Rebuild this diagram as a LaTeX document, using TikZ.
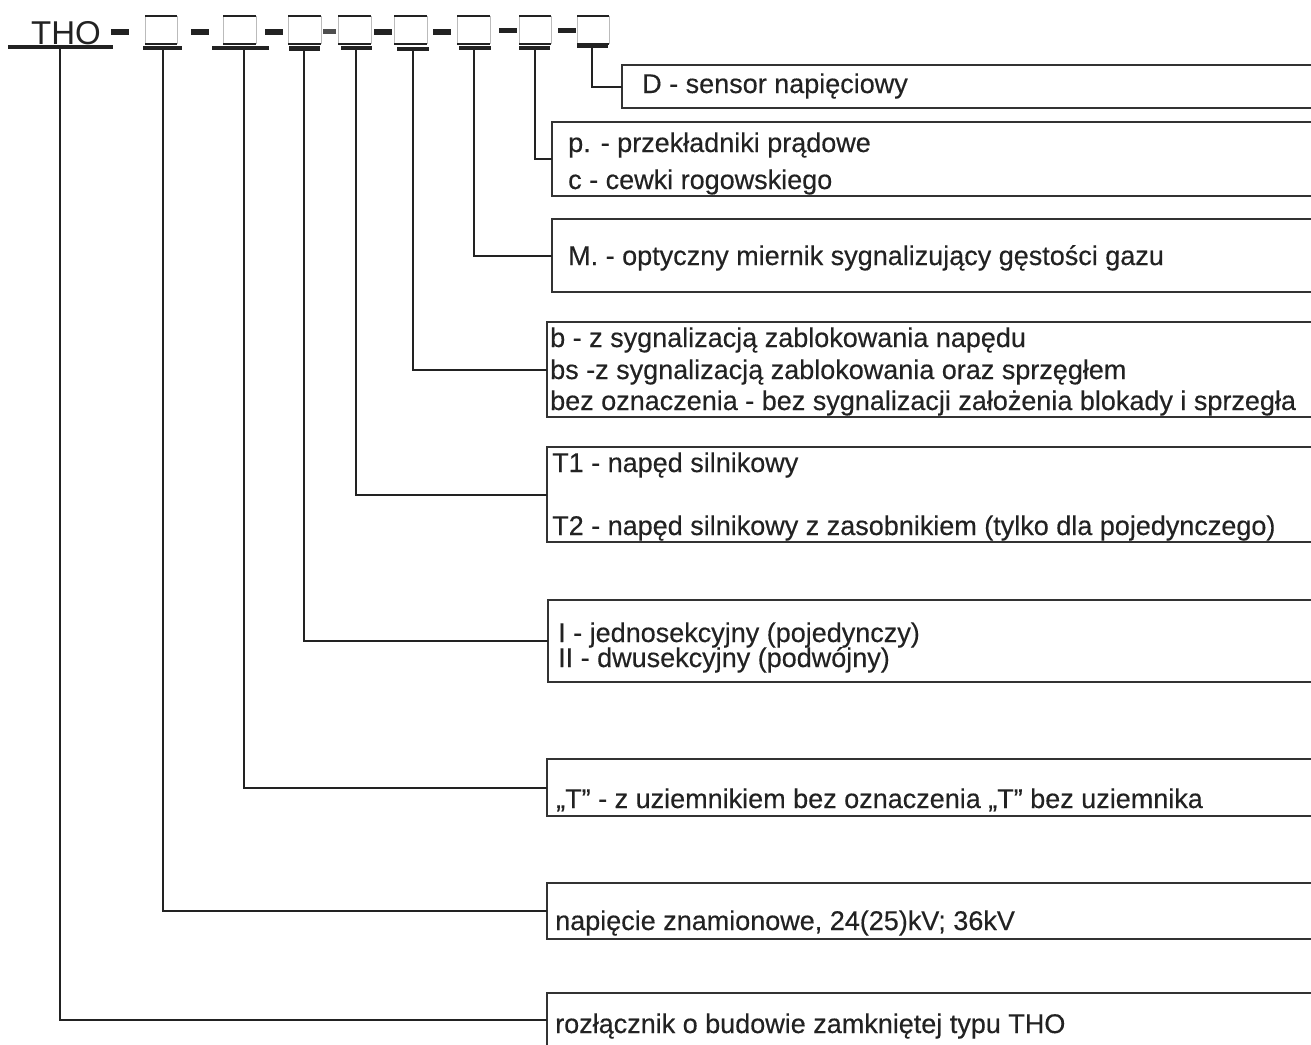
\documentclass[tikz,border=0pt]{standalone}
\usepackage{fontspec}
\setmainfont{Liberation Sans}
\newfontfamily\boxfont[FakeBold=0.35]{Liberation Sans}
\usepackage{tikz}

\definecolor{ink}{HTML}{222222}
\definecolor{boxgray}{HTML}{333333}
\definecolor{sidegray}{HTML}{BBBBBB}

\begin{document}
\begin{tikzpicture}[x=1pt,y=-1pt,
  box/.style={draw=boxgray,line width=1.4pt,inner sep=0pt,outer sep=0pt,anchor=north west,minimum width=#1},
  box/.default=780pt,
  lbl/.style={anchor=base west,inner sep=0pt,text=ink,font=\boxfont\fontsize{27}{27}\selectfont},
  conn/.style={draw=ink,line width=2pt},
  sqside/.style={draw=sidegray,line width=1pt},
  sqedge/.style={draw=ink,line width=1.6pt}]

% Page frame
\clip (0,0) rectangle (1311,1044);

% Type code THO - x - x - ...
\node[anchor=base west,inner sep=0pt,text=ink,font=\fontsize{33}{33}\selectfont] (tho) at (31,44) {THO};
\fill[ink] (8,45) rectangle (113,49);

%Slots (gray sides, dark top and bottom)
\draw[sqside] (145,16) -- (145,44) (177,16) -- (177,44);
\draw[sqside] (223,16) -- (223,44) (256,16) -- (256,44);
\draw[sqside] (288,16) -- (288,44) (321,16) -- (321,44);
\draw[sqside] (338,16) -- (338,44) (371,16) -- (371,44);
\draw[sqside] (394,16) -- (394,44) (427,16) -- (427,44);
\draw[sqside] (457,16) -- (457,44) (490,16) -- (490,44);
\draw[sqside] (519,16) -- (519,44) (551,16) -- (551,44);
\draw[sqside] (577,16) -- (577,44) (609,16) -- (609,44);
\draw[sqedge] (145,16) -- (177,16) (145,44) -- (177,44);
\draw[sqedge] (223,16) -- (256,16) (223,44) -- (256,44);
\draw[sqedge] (288,16) -- (321,16) (288,44) -- (321,44);
\draw[sqedge] (338,16) -- (371,16) (338,44) -- (371,44);
\draw[sqedge] (394,16) -- (427,16) (394,44) -- (427,44);
\draw[sqedge] (457,16) -- (490,16) (457,44) -- (490,44);
\draw[sqedge] (519,16) -- (551,16) (519,44) -- (551,44);
\draw[sqedge] (577,16) -- (609,16) (577,44) -- (609,44);

%Dashes between slots
\fill[ink] (111,29) rectangle (129,35);
\fill[ink] (191,29) rectangle (209,35);
\fill[ink] (265,29) rectangle (283,35);
\fill[ink!80] (323,29) rectangle (336,34);
\fill[ink] (374,29) rectangle (392,35);
\fill[ink] (433,29) rectangle (451,35);
\fill[ink] (499,28) rectangle (517,33);
\fill[ink] (558,28) rectangle (576,33);

%Underlines below slots
\fill[ink] (143,46) rectangle (182,50);
\fill[ink] (212,46) rectangle (269,50);
\fill[ink] (289,46) rectangle (320,51);
\fill[ink] (341,46) rectangle (372,50);
\fill[ink] (397,47) rectangle (429,51);
\fill[ink] (459,46) rectangle (491,50);
\fill[ink] (519,46) rectangle (550,50);
\fill[ink] (577,45) rectangle (608,48);

% Start points of the leader lines
\coordinate (v0) at (60,49);
\coordinate (v1) at (163,50);
\coordinate (v2) at (244,50);
\coordinate (v3) at (304,51);
\coordinate (v4) at (356,50);
\coordinate (v5) at (413,51);
\coordinate (v6) at (474,50);
\coordinate (v7) at (535,50);
\coordinate (v8) at (592,48);

% Description boxes
\node[box=700pt,minimum height=43pt] (bSensor) at (622,65) {};
\node[box,minimum height=74pt] (bCurrent) at (552,122) {};
\node[box,minimum height=73pt] (bGauge) at (552,219) {};
\node[box,minimum height=95pt] (bLock) at (547,322) {};
\node[box,minimum height=95pt] (bDrive) at (547,447) {};
\node[box,minimum height=82pt] (bSection) at (548,600) {};
\node[box,minimum height=57pt] (bEarth) at (547,759) {};
\node[box,minimum height=56pt] (bVoltage) at (547,883) {};
\node[box,minimum height=53pt] (bType) at (547,993) {};

% Texts
\node[lbl] (tSensor) at (642,93) {D - sensor napięciowy};
\node[lbl] (tCurrentA) at (568,152) {p. - przekładniki prądowe};
\node[lbl] (tCurrentB) at (568,189) {c - cewki rogowskiego};
\node[lbl] (tGauge) at (568,265) {M. - optyczny miernik sygnalizujący gęstości gazu};
\node[lbl] (tLockA) at (550,347) {b - z sygnalizacją zablokowania napędu};
\node[lbl] (tLockB) at (550,379) {bs -z sygnalizacją zablokowania oraz sprzęgłem};
\node[lbl] (tLockC) at (550,410) {bez oznaczenia - bez sygnalizacji założenia blokady i sprzegła};
\node[lbl] (tDriveA) at (552,472) {T1 - napęd silnikowy};
\node[lbl] (tDriveB) at (552,535) {T2 - napęd silnikowy z zasobnikiem (tylko dla pojedynczego)};
\node[lbl] (tSectionA) at (558,642) {I - jednosekcyjny (pojedynczy)};
\node[lbl] (tSectionB) at (558,667) {II - dwusekcyjny (podwójny)};
\node[lbl] (tEarth) at (556,808) {„T” - z uziemnikiem bez oznaczenia „T” bez uziemnika};
\node[lbl] (tVoltage) at (555,930) {napięcie znamionowe, 24(25)kV; 36kV};
\node[lbl] (tType) at (555,1033) {rozłącznik o budowie zamkniętej typu THO};

% Leader lines
\draw[conn] (v0) |- (bType.west);
\draw[conn] (v1) |- (bVoltage.west);
\draw[conn] (v2) |- (bEarth.west);
\draw[conn] (v3) |- (bSection.west);
\draw[conn] (v4) |- (bDrive.west);
\draw[conn] (v5) |- (bLock.west);
\draw[conn] (v6) |- (bGauge.west);
\draw[conn] (v7) |- (bCurrent.west);
\draw[conn] (v8) |- (bSensor.west);

\end{tikzpicture}
\end{document}
